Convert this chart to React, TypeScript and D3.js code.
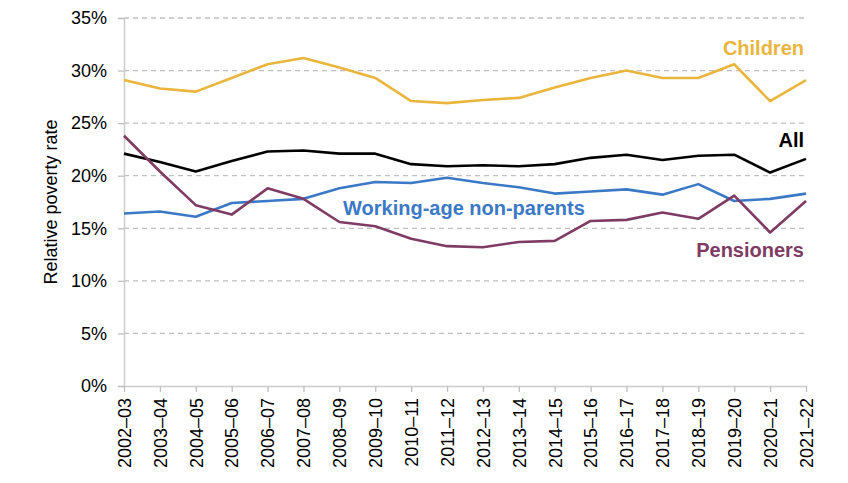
import { useEffect, useRef } from "react";
import * as d3 from "d3";

const years = [
  "2002–03", "2003–04", "2004–05", "2005–06", "2006–07", "2007–08", "2008–09",
  "2009–10", "2010–11", "2011–12", "2012–13", "2013–14", "2014–15", "2015–16",
  "2016–17", "2017–18", "2018–19", "2019–20", "2020–21", "2021–22",
];

const children = [29.1, 28.3, 28.0, 29.3, 30.6, 31.2, 30.3, 29.3, 27.1, 26.9, 27.2, 27.4, 28.4, 29.3, 30.0, 29.3, 29.3, 30.6, 27.1, 29.1];
const all = [22.1, 21.3, 20.4, 21.4, 22.3, 22.4, 22.1, 22.1, 21.1, 20.9, 21.0, 20.9, 21.1, 21.7, 22.0, 21.5, 21.9, 22.0, 20.3, 21.6];
const workingAge = [16.4, 16.6, 16.1, 17.4, 17.6, 17.8, 18.8, 19.4, 19.3, 19.8, 19.3, 18.9, 18.3, 18.5, 18.7, 18.2, 19.2, 17.6, 17.8, 18.3];
const pensioners = [23.8, 20.4, 17.2, 16.3, 18.8, 17.8, 15.6, 15.2, 14.0, 13.3, 13.2, 13.7, 13.8, 15.7, 15.8, 16.5, 15.9, 18.1, 14.6, 17.6];

const yTicks = [0, 5, 10, 15, 20, 25, 30, 35];

const series = [
  { name: "Children", values: children, color: "#E9B53D", lx: 804, ly: 55, anchor: "end" },
  { name: "All", values: all, color: "#000000", lx: 804, ly: 147, anchor: "end" },
  { name: "Working-age non-parents", values: workingAge, color: "#3B79C6", lx: 343, ly: 215, anchor: "start" },
  { name: "Pensioners", values: pensioners, color: "#7F3B63", lx: 804, ly: 257, anchor: "end" },
];

const W = 848;
const H = 483;
const margin = { top: 18, right: 42, bottom: 97, left: 124 };

export default function App() {
  const ref = useRef<SVGSVGElement>(null);

  useEffect(() => {
    const svg = d3.select(ref.current);
    svg.selectAll("*").remove();
    const font = "'Liberation Sans', Arial, sans-serif";

    const x = d3
      .scalePoint<string>()
      .domain(years)
      .range([margin.left, W - margin.right]);
    const y = d3
      .scaleLinear()
      .domain([0, 35])
      .range([H - margin.bottom, margin.top]);

    // gridlines
    svg
      .append("g")
      .selectAll("line")
      .data(yTicks.filter((t) => t > 0))
      .join("line")
      .attr("x1", margin.left)
      .attr("x2", W - margin.right)
      .attr("y1", (d) => y(d))
      .attr("y2", (d) => y(d))
      .attr("stroke", "#bfbfbf")
      .attr("stroke-width", 1.3)
      .attr("stroke-dasharray", "5,4");

    // y axis
    const yAxis = svg
      .append("g")
      .attr("transform", `translate(${margin.left},0)`)
      .call(
        d3
          .axisLeft(y)
          .tickValues(yTicks)
          .tickSize(6)
          .tickPadding(11)
          .tickFormat((d) => `${d}%`)
      );
    yAxis.select(".domain").attr("stroke", "#cccccc").attr("stroke-width", 1.5);
    yAxis.selectAll("line").attr("stroke", "#bfbfbf").attr("stroke-width", 1.3);
    yAxis
      .selectAll("text")
      .attr("fill", "#000")
      .style("font-family", font)
      .style("font-size", "18px");

    // x axis
    const xAxis = svg
      .append("g")
      .attr("transform", `translate(0,${H - margin.bottom})`)
      .call(d3.axisBottom(x).tickSize(6).tickSizeOuter(0));
    xAxis.select(".domain").attr("stroke", "#cccccc").attr("stroke-width", 1.5);
    xAxis.selectAll("line").attr("stroke", "#bfbfbf").attr("stroke-width", 1.3);
    xAxis
      .selectAll("text")
      .attr("fill", "#000")
      .style("font-family", font)
      .style("font-size", "18px")
      .attr("text-anchor", "end")
      .attr("transform", "rotate(-90)")
      .attr("x", -12)
      .attr("y", 0)
      .attr("dy", "0.35em");

    // y label
    svg
      .append("text")
      .attr("transform", `translate(57,${(margin.top + H - margin.bottom) / 2}) rotate(-90)`)
      .attr("text-anchor", "middle")
      .style("font-family", font)
      .style("font-size", "18px")
      .attr("fill", "#000")
      .text("Relative poverty rate");

    // lines
    const line = d3
      .line<number>()
      .x((_, i) => x(years[i]) as number)
      .y((d) => y(d));

    series.forEach((s) => {
      svg
        .append("path")
        .datum(s.values)
        .attr("fill", "none")
        .attr("stroke", s.color)
        .attr("stroke-width", 2.6)
        .attr("stroke-linejoin", "round")
        .attr("d", line);
    });

    series.forEach((s) => {
      svg
        .append("text")
        .attr("x", s.lx)
        .attr("y", s.ly)
        .attr("text-anchor", s.anchor)
        .attr("fill", s.color)
        .style("font-family", font)
        .style("font-size", "20px")
        .style("font-weight", "bold")
        .text(s.name);
    });
  }, []);

  return (
    <div style={{ position: "absolute", left: 0, top: 0 }}>
      <svg ref={ref} width={W} height={H} style={{ display: "block", background: "#fff" }} />
    </div>
  );
}
